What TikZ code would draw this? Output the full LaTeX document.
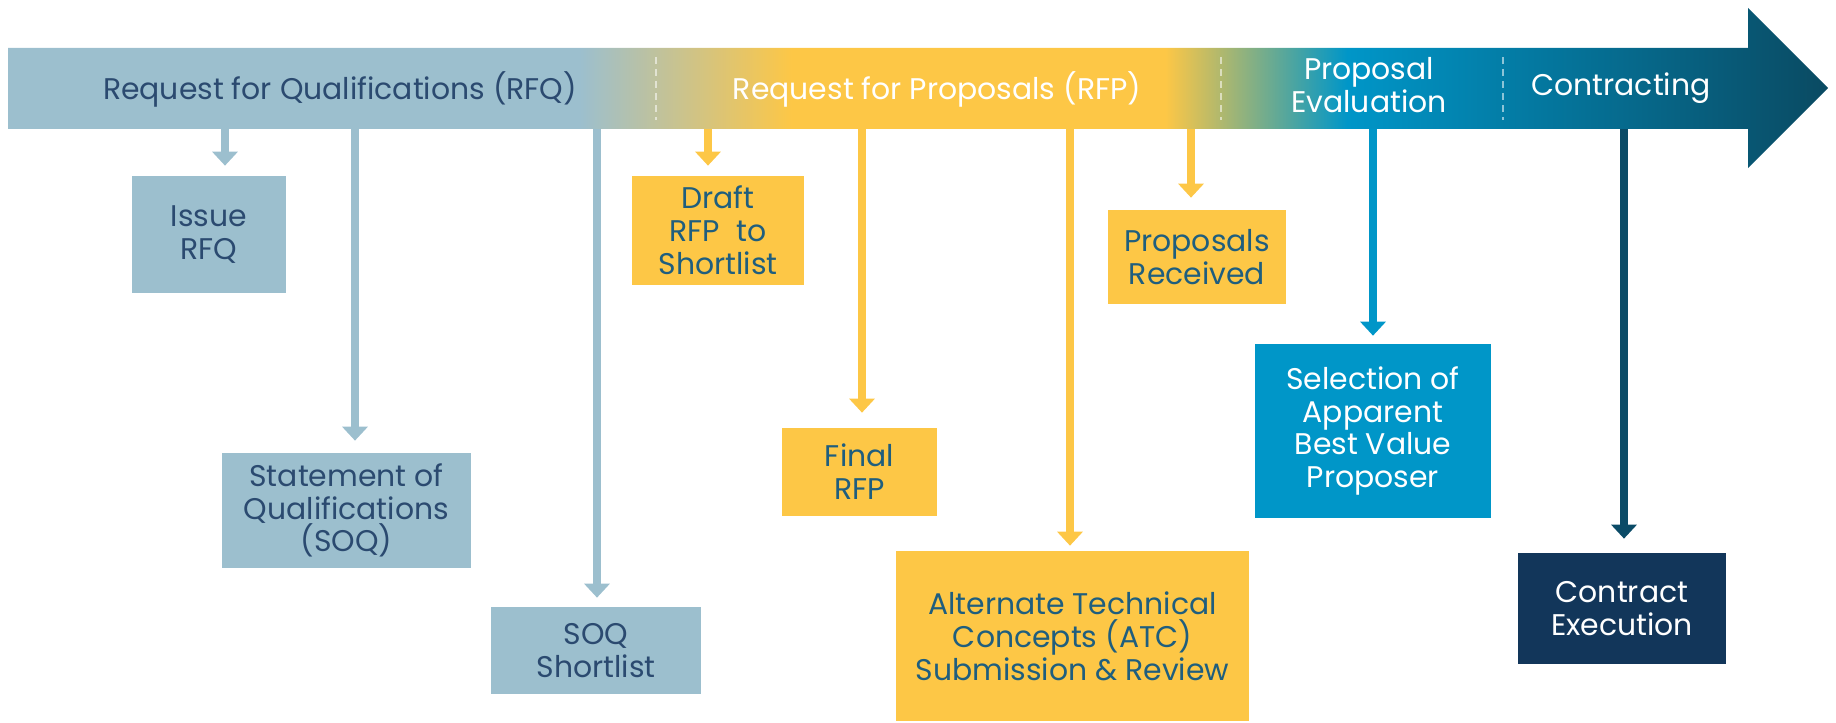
\documentclass[tikz,border=0pt]{standalone}
\usepackage{fontspec}
\setmainfont{Poppins}
\usetikzlibrary{arrows.meta}
\definecolor{rfqblue}{HTML}{9CBFCE}
\definecolor{rfpgold}{HTML}{FDC746}
\definecolor{evalblue}{HTML}{0096C8}
\definecolor{endteal}{HTML}{0A4A62}
\definecolor{navybox}{HTML}{12365A}
\definecolor{dropteal}{HTML}{0B4B67}
\definecolor{inkblue}{HTML}{2B4A70}
\definecolor{inkteal}{HTML}{1F5E7E}
\pgfdeclarehorizontalshading{phasebar}{100bp}{color(0bp)=(rfqblue); color(40.71bp)=(rfqblue); color(46.54bp)=(rfpgold); color(56.79bp)=(rfpgold); color(61.79bp)=(evalblue); color(75bp)=(endteal); color(100bp)=(endteal)}
\tikzset{
  phase/.style={inner sep=0pt, align=center, font=\fontsize{17}{18.7}\selectfont},
  qbox/.style={phase, fill=rfqblue, text=inkblue},
  pbox/.style={phase, fill=rfpgold, text=inkteal},
  ebox/.style={phase, fill=evalblue, text=white},
  cbox/.style={phase, fill=navybox, text=white},
  drop/.style={draw=#1, line width=0.16cm, -{Triangle[width=0.5cm,length=0.28cm]}},
  divider/.style={draw=white, draw opacity=0.55, line width=0.04cm, dash pattern=on 0.14cm off 0.1cm}
}
\begin{document}
\begin{tikzpicture}[x=0.02cm, y=0.02cm]
		\useasboundingbox (0,0) rectangle (1836,-723);
		\shade [shading=phasebar] (8,-48) -- (1748,-48) -- (1748,-8) -- (1828,-88) -- (1748,-168) -- (1748,-129) -- (8,-129) -- cycle;
		\draw [divider] (656,-57) -- (656,-120);
		\draw [divider] (1221,-57) -- (1221,-120);
		\draw [divider] (1503,-57) -- (1503,-120);
		\node [phase, text=inkblue] (rfq) at (340,-89) {Request for Qualifications (RFQ)};
		\node [phase, text=white] (rfp) at (937,-89) {Request for Proposals (RFP)};
		\node [phase, text=white] (eval) at (1369,-85) {Proposal\\Evaluation};
		\node [phase, text=white] (contr) at (1621,-88) {Contracting};
		\node [qbox, minimum width=3.08cm, minimum height=2.34cm] (issue) at (209,-234.5) {Issue\\RFQ};
		\node [qbox, minimum width=4.98cm, minimum height=2.30cm] (soq) at (346.5,-510.5) {Statement of\\Qualifications\\(SOQ)};
		\node [qbox, minimum width=4.20cm, minimum height=1.74cm] (short) at (596,-650.5) {SOQ\\Shortlist};
		\node [pbox, minimum width=3.44cm, minimum height=2.18cm] (draft) at (718,-230.5) {Draft\\RFP~ to\\Shortlist};
		\node [pbox, minimum width=3.10cm, minimum height=1.76cm] (final) at (859.5,-472) {Final\\RFP};
		\node [pbox, minimum width=7.06cm, minimum height=3.40cm] (atc) at (1072.5,-636) {Alternate Technical\\Concepts (ATC)\\Submission \& Review};
		\node [pbox, minimum width=3.56cm, minimum height=1.88cm] (recv) at (1197,-257) {Proposals\\Received};
		\node [ebox, minimum width=4.72cm, minimum height=3.48cm] (select) at (1373,-431) {Selection of\\Apparent\\Best Value\\Proposer};
		\node [cbox, minimum width=4.16cm, minimum height=2.22cm] (exec) at (1622,-608.5) {Contract\\Execution};
		\coordinate (q1) at (225,-129);
		\coordinate (q2) at (355,-129);
		\coordinate (q3) at (597,-129);
		\coordinate (p1) at (708,-129);
		\coordinate (p2) at (862,-129);
		\coordinate (p3) at (1070,-129);
		\coordinate (p4) at (1191,-129);
		\coordinate (e1) at (1373,-129);
		\coordinate (c1) at (1624,-129);
		\draw [drop=rfqblue, shorten >=0.2cm] (q1) -- (q1 |- issue.north);
		\draw [drop=rfqblue, shorten >=0.24cm] (q2) -- (q2 |- soq.north);
		\draw [drop=rfqblue, shorten >=0.18cm] (q3) -- (q3 |- short.north);
		\draw [drop=rfpgold, shorten >=0.2cm] (p1) -- (p1 |- draft.north);
		\draw [drop=rfpgold, shorten >=0.3cm] (p2) -- (p2 |- final.north);
		\draw [drop=rfpgold, shorten >=0.1cm] (p3) -- (p3 |- atc.north);
		\draw [drop=rfpgold, shorten >=0.24cm] (p4) -- (p4 |- recv.north);
		\draw [drop=evalblue, shorten >=0.16cm] (e1) -- (e1 |- select.north);
		\draw [drop=dropteal, shorten >=0.28cm] (c1) -- (c1 |- exec.north);
\end{tikzpicture}
\end{document}
